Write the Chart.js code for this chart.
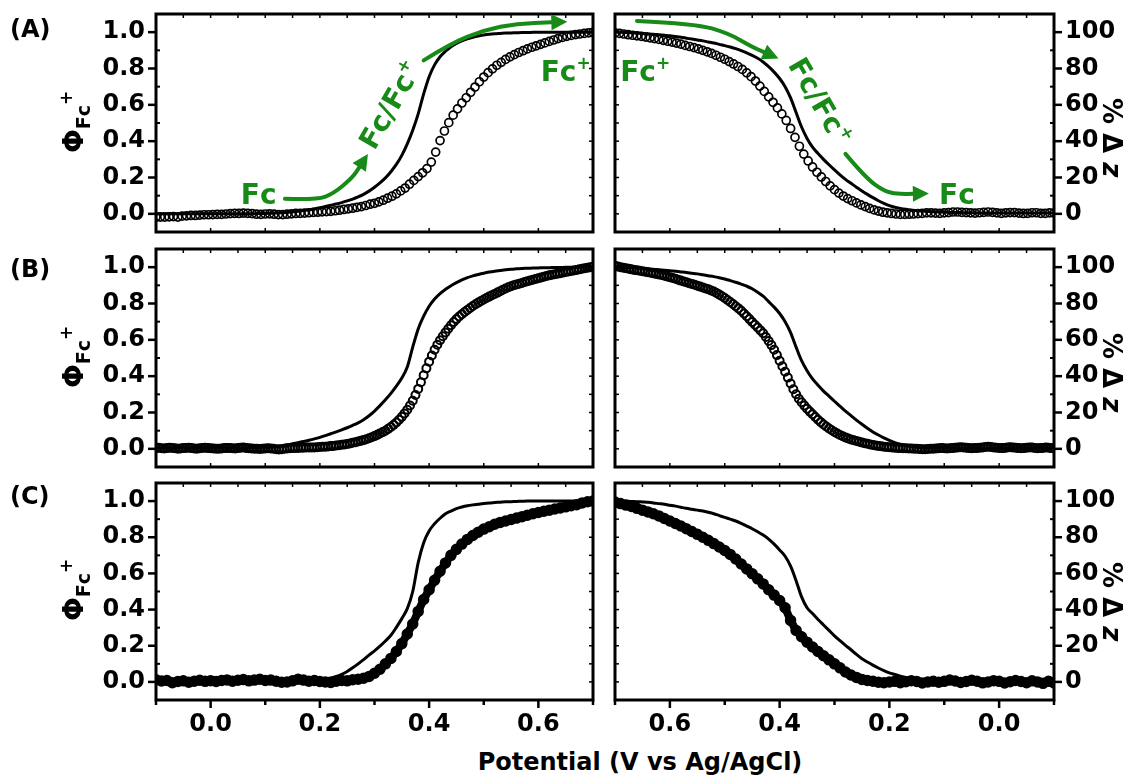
<!DOCTYPE html>
<html>
<head>
<meta charset="utf-8">
<script src="https://cdn.jsdelivr.net/npm/chart.js@4.4.1/dist/chart.umd.min.js"></script>
<style>
  body { margin: 0; background: #fff; }
  #wrap { position: relative; width: 1128px; height: 779px; overflow: hidden; font-family: "DejaVu Sans", sans-serif; font-weight: bold; color: #000; }
  canvas { position: absolute; }
  .lbl { position: absolute; font-size: 24px; line-height: 27px; }
  .ttl { position: absolute; white-space: nowrap; transform-origin: 0 0; }
</style>
</head>
<body>
<div id="wrap">
  <canvas id="cAL" width="600" height="240" style="left:0;top:0"></canvas>
  <canvas id="cAR" width="523" height="240" style="left:605px;top:0"></canvas>
  <canvas id="cBL" width="600" height="235" style="left:0;top:240px"></canvas>
  <canvas id="cBR" width="523" height="235" style="left:605px;top:240px"></canvas>
  <canvas id="cCL" width="600" height="270" style="left:0;top:475px"></canvas>
  <canvas id="cCR" width="523" height="270" style="left:605px;top:475px"></canvas>

  <div class="lbl" style="left:10px;top:16px">(A)</div>
  <div class="lbl" style="left:10px;top:256px">(B)</div>
  <div class="lbl" style="left:10px;top:483px">(C)</div>

  <div class="ttl phi" style="left:57px;top:153px"></div>
  <div class="ttl phi" style="left:57px;top:388px"></div>
  <div class="ttl phi" style="left:57px;top:621px"></div>
  <div class="ttl dz" style="left:1127px;top:98px"></div>
  <div class="ttl dz" style="left:1127px;top:333px"></div>
  <div class="ttl dz" style="left:1127px;top:562px"></div>

  <div class="ttl" style="left:640px;top:762px;font-size:24px;transform:translate(-50%,-50%)">Potential (V vs Ag/AgCl)</div>
</div>

<script>
// scan potentials (V vs Ag/AgCl)
// (A) circles are sampled every 8 mV
const potA = [
  -0.1,-0.092,-0.084,-0.076,-0.068,-0.06,-0.052,-0.044,-0.036,-0.028,-0.02,-0.012,-0.004,
  0.004,0.012,0.02,0.028,0.036,0.044,0.052,0.06,0.068,0.076,0.084,0.092,0.1,
  0.108,0.116,0.124,0.132,0.14,0.148,0.156,0.164,0.172,0.18,0.188,0.196,0.204,
  0.212,0.22,0.228,0.236,0.244,0.252,0.26,0.268,0.276,0.284,0.292,0.3,
  0.308,0.316,0.324,0.332,0.34,0.348,0.356,0.364,0.372,0.38,0.388,0.396,0.404,
  0.412,0.42,0.428,0.436,0.444,0.452,0.46,0.468,0.476,0.484,0.492,0.5,
  0.508,0.516,0.524,0.532,0.54,0.548,0.556,0.564,0.572,0.58,0.588,0.596,0.604,
  0.612,0.62,0.628,0.636,0.644,0.652,0.66,0.668,0.676,0.684,0.692,0.7
];
// (B) circles every 5 mV
const potFine = [
  -0.1,-0.095,-0.09,-0.085,-0.08,-0.075,-0.07,-0.065,-0.06,-0.055,-0.05,-0.045,-0.04,-0.035,-0.03,-0.025,-0.02,-0.015,-0.01,-0.005,0,
  0.005,0.01,0.015,0.02,0.025,0.03,0.035,0.04,0.045,0.05,0.055,0.06,0.065,0.07,0.075,0.08,0.085,0.09,0.095,0.1,
  0.105,0.11,0.115,0.12,0.125,0.13,0.135,0.14,0.145,0.15,0.155,0.16,0.165,0.17,0.175,0.18,0.185,0.19,0.195,0.2,
  0.205,0.21,0.215,0.22,0.225,0.23,0.235,0.24,0.245,0.25,0.255,0.26,0.265,0.27,0.275,0.28,0.285,0.29,0.295,0.3,
  0.305,0.31,0.315,0.32,0.325,0.33,0.335,0.34,0.345,0.35,0.355,0.36,0.365,0.37,0.375,0.38,0.385,0.39,0.395,0.4,
  0.405,0.41,0.415,0.42,0.425,0.43,0.435,0.44,0.445,0.45,0.455,0.46,0.465,0.47,0.475,0.48,0.485,0.49,0.495,0.5,
  0.505,0.51,0.515,0.52,0.525,0.53,0.535,0.54,0.545,0.55,0.555,0.56,0.565,0.57,0.575,0.58,0.585,0.59,0.595,0.6,
  0.605,0.61,0.615,0.62,0.625,0.63,0.635,0.64,0.645,0.65,0.655,0.66,0.665,0.67,0.675,0.68,0.685,0.69,0.695,0.7
];
// (C) circles and all Φ lines every 10 mV
const potCoarse = [
  -0.1,-0.09,-0.08,-0.07,-0.06,-0.05,-0.04,-0.03,-0.02,-0.01,0,
  0.01,0.02,0.03,0.04,0.05,0.06,0.07,0.08,0.09,0.1,
  0.11,0.12,0.13,0.14,0.15,0.16,0.17,0.18,0.19,0.2,
  0.21,0.22,0.23,0.24,0.25,0.26,0.27,0.28,0.29,0.3,
  0.31,0.32,0.33,0.34,0.35,0.36,0.37,0.38,0.39,0.4,
  0.41,0.42,0.43,0.44,0.45,0.46,0.47,0.48,0.49,0.5,
  0.51,0.52,0.53,0.54,0.55,0.56,0.57,0.58,0.59,0.6,
  0.61,0.62,0.63,0.64,0.65,0.66,0.67,0.68,0.69,0.7
];

// circles = %Δz / 100, lines = Φ_Fc+
const aFwdDots = [
  -0.018,-0.018,-0.018,-0.017,-0.015,-0.018,-0.013,-0.011,-0.009,-0.009,-0.007,-0.005,-0.005,
  -0.004,-0.003,-0.003,-0.001,0.001,0.003,0.002,0.004,0.003,0.001,-0.002,-0.003,-0.001,
  0.000,-0.002,-0.004,-0.004,-0.002,0.000,0.002,0.003,0.004,0.006,0.008,0.009,0.011,
  0.012,0.014,0.017,0.020,0.024,0.027,0.031,0.036,0.040,0.046,0.053,0.058,
  0.066,0.075,0.086,0.097,0.110,0.126,0.142,0.163,0.184,0.205,0.226,0.249,0.285,
  0.340,0.403,0.456,0.502,0.543,0.578,0.610,0.639,0.669,0.698,0.727,0.753,
  0.777,0.798,0.818,0.834,0.850,0.864,0.876,0.888,0.898,0.908,0.917,0.925,0.933,
  0.941,0.949,0.957,0.965,0.971,0.977,0.982,0.987,0.990,0.993,0.996,0.999
];
const aRevDots = [
  0.004,0.005,0.003,0.003,0.006,0.006,0.003,0.002,0.004,0.007,0.007,0.005,0.003,
  0.005,0.008,0.010,0.008,0.006,0.004,0.005,0.007,0.008,0.010,0.010,0.007,0.005,
  0.003,0.004,0.005,0.005,0.003,0.001,-0.001,-0.002,-0.003,-0.003,-0.001,0.002,0.005,
  0.009,0.015,0.022,0.030,0.040,0.049,0.060,0.072,0.084,0.098,0.114,0.133,
  0.154,0.178,0.203,0.229,0.258,0.291,0.329,0.372,0.421,0.470,0.514,0.550,0.583,
  0.614,0.644,0.674,0.703,0.731,0.755,0.776,0.795,0.811,0.825,0.838,0.851,
  0.862,0.873,0.883,0.892,0.900,0.908,0.915,0.921,0.927,0.934,0.940,0.945,0.950,
  0.955,0.960,0.965,0.969,0.973,0.977,0.980,0.983,0.986,0.990,0.993,0.996
];
const aFwdLine = [
  0,0,0,0,0,0,0,0,0,0,0,
  0.000,0.000,0.000,0.000,0.000,0.001,0.001,0.001,0.002,0.002,
  0.003,0.004,0.006,0.008,0.011,0.014,0.018,0.022,0.027,0.033,
  0.040,0.047,0.054,0.062,0.071,0.081,0.093,0.107,0.125,0.146,
  0.170,0.198,0.232,0.272,0.322,0.385,0.460,0.550,0.660,0.755,
  0.820,0.865,0.895,0.920,0.938,0.952,0.963,0.972,0.979,0.984,
  0.988,0.991,0.993,0.995,0.996,0.997,0.998,0.998,0.999,0.999,
  1,1,1,1,1,1,1,1,1,1
];
const aRevLine = [
  0.005,0.005,0.005,0.005,0.005,0.005,0.005,0.005,0.005,0.005,0.005,
  0.005,0.005,0.005,0.005,0.006,0.006,0.007,0.007,0.008,0.009,
  0.010,0.011,0.013,0.015,0.018,0.021,0.025,0.030,0.036,0.045,
  0.057,0.072,0.089,0.107,0.126,0.146,0.168,0.190,0.215,0.242,
  0.270,0.300,0.332,0.367,0.415,0.478,0.558,0.638,0.700,0.745,
  0.780,0.810,0.836,0.856,0.872,0.886,0.898,0.909,0.918,0.926,
  0.933,0.940,0.946,0.952,0.957,0.962,0.967,0.972,0.976,0.980,
  0.983,0.986,0.989,0.991,0.993,0.995,0.997,0.998,0.999,1.000
];

const bFwdDots = [
  0.004,0.006,0.003,0.002,0.004,0.006,0.005,0.003,0.001,0.002,0.004,0.005,0.006,0.004,0.002,0.001,0.003,0.005,0.006,0.004,0.003,
  0.002,0.001,0.000,0.002,0.004,0.005,0.004,0.003,0.002,0.004,0.006,0.007,0.005,0.003,0.002,0.001,0.000,-0.001,0.000,0.002,
  0.003,0.002,0.000,-0.002,-0.003,-0.002,0.000,0.002,0.003,0.004,0.005,0.005,0.006,0.006,0.007,0.007,0.008,0.008,0.009,0.010,
  0.011,0.012,0.013,0.015,0.016,0.018,0.020,0.022,0.024,0.027,0.030,0.033,0.036,0.040,0.044,0.048,0.053,0.058,0.064,0.070,
  0.077,0.085,0.092,0.100,0.110,0.120,0.132,0.145,0.160,0.176,0.195,0.215,0.239,0.265,0.296,0.330,0.367,0.405,0.443,0.480,
  0.514,0.545,0.573,0.598,0.620,0.641,0.661,0.680,0.698,0.714,0.728,0.741,0.753,0.764,0.775,0.786,0.796,0.805,0.814,0.822,
  0.830,0.838,0.845,0.852,0.860,0.868,0.876,0.883,0.889,0.895,0.900,0.905,0.909,0.913,0.918,0.922,0.927,0.931,0.935,0.939,
  0.943,0.947,0.951,0.955,0.958,0.961,0.964,0.967,0.970,0.973,0.976,0.979,0.982,0.985,0.988,0.991,0.994,0.997,0.999,1.002
];
const bRevDots = [
  0.003,0.004,0.006,0.007,0.005,0.004,0.003,0.005,0.007,0.008,0.006,0.004,0.003,0.004,0.006,0.008,0.009,0.007,0.005,0.004,0.005,
  0.006,0.008,0.010,0.011,0.010,0.008,0.006,0.005,0.004,0.003,0.004,0.006,0.008,0.009,0.008,0.006,0.004,0.003,0.002,0.003,
  0.004,0.003,0.002,0.001,0.000,-0.001,-0.002,-0.002,-0.001,0.000,0.001,0.002,0.002,0.003,0.003,0.004,0.005,0.006,0.007,0.009,
  0.010,0.012,0.014,0.016,0.018,0.021,0.024,0.028,0.031,0.035,0.039,0.043,0.047,0.052,0.057,0.063,0.069,0.076,0.084,0.093,
  0.102,0.112,0.123,0.134,0.147,0.160,0.175,0.190,0.205,0.221,0.238,0.256,0.276,0.300,0.328,0.360,0.392,0.424,0.455,0.485,
  0.516,0.545,0.571,0.594,0.616,0.636,0.652,0.668,0.683,0.698,0.714,0.730,0.745,0.760,0.773,0.785,0.797,0.808,0.819,0.830,
  0.840,0.849,0.858,0.866,0.872,0.878,0.883,0.888,0.893,0.898,0.903,0.908,0.912,0.917,0.921,0.926,0.931,0.936,0.940,0.945,
  0.949,0.953,0.957,0.960,0.963,0.966,0.969,0.972,0.975,0.978,0.980,0.983,0.985,0.988,0.991,0.994,0.997,1.000,1.004,1.008
];
const bFwdLine = [
  0.005,0.005,0.005,0.005,0.005,0.005,0.005,0.005,0.005,0.005,0.005,
  0.005,0.005,0.005,0.005,0.005,0.005,0.005,0.005,0.005,0.005,
  0.008,0.012,0.017,0.022,0.028,0.034,0.040,0.047,0.055,0.063,
  0.073,0.083,0.093,0.104,0.116,0.129,0.143,0.160,0.182,0.208,
  0.238,0.270,0.305,0.345,0.390,0.450,0.560,0.660,0.730,0.785,
  0.825,0.855,0.878,0.898,0.915,0.930,0.942,0.952,0.960,0.967,
  0.973,0.978,0.982,0.986,0.989,0.991,0.993,0.994,0.995,0.996,
  0.997,0.997,0.998,0.998,0.999,0.999,1.000,1.000,1.000,1.000
];
const bRevLine = [
  0.005,0.005,0.005,0.005,0.005,0.005,0.005,0.005,0.005,0.005,0.005,
  0.005,0.005,0.005,0.005,0.005,0.005,0.005,0.005,0.005,0.005,
  0.005,0.005,0.005,0.005,0.008,0.012,0.018,0.025,0.034,0.046,
  0.060,0.076,0.093,0.113,0.135,0.158,0.183,0.208,0.235,0.262,
  0.290,0.318,0.350,0.385,0.430,0.485,0.560,0.640,0.700,0.745,
  0.780,0.810,0.840,0.862,0.881,0.895,0.907,0.917,0.926,0.935,
  0.942,0.948,0.953,0.958,0.963,0.967,0.971,0.974,0.977,0.980,
  0.983,0.986,0.989,0.991,0.993,0.995,0.997,0.998,0.999,1.000
];

const cFwdDots = [
  0.012,0.005,0.008,-0.004,0.002,0.006,-0.002,0.004,0.009,0.003,0.007,
  0.002,0.008,0.011,0.004,0.009,0.013,0.006,0.010,0.015,0.008,
  0.010,0.004,-0.002,0.000,0.006,0.015,0.010,0.004,0.008,0.002,
  0.000,-0.003,0.004,0.008,0.006,0.012,0.015,0.020,0.030,0.048,
  0.070,0.100,0.130,0.168,0.212,0.265,0.320,0.390,0.456,0.510,
  0.562,0.612,0.658,0.700,0.733,0.762,0.788,0.810,0.828,0.845,
  0.858,0.872,0.882,0.890,0.898,0.906,0.914,0.922,0.930,0.937,
  0.944,0.950,0.956,0.962,0.968,0.974,0.980,0.990,0.996,1.000
];
const cRevDots = [
  -0.005,0.003,-0.008,0.000,0.006,-0.004,0.002,0.008,0.001,-0.006,0.003,
  0.007,0.000,-0.005,0.004,0.009,0.002,-0.003,0.005,0.010,0.003,
  -0.002,0.004,0.000,-0.006,0.002,0.007,0.001,-0.004,0.003,0.000,
  -0.004,-0.002,0.004,0.008,0.014,0.025,0.038,0.055,0.078,0.100,
  0.122,0.145,0.168,0.193,0.220,0.250,0.285,0.340,0.410,0.450,
  0.480,0.510,0.542,0.570,0.598,0.625,0.652,0.680,0.705,0.727,
  0.746,0.765,0.783,0.800,0.816,0.832,0.847,0.862,0.876,0.890,
  0.904,0.918,0.930,0.940,0.950,0.960,0.970,0.978,0.986,0.995
];
const cFwdLine = [
  0.010,0.010,0.010,0.010,0.010,0.010,0.010,0.010,0.010,0.010,0.010,
  0.010,0.010,0.010,0.010,0.010,0.010,0.010,0.010,0.010,0.010,
  0.010,0.010,0.010,0.010,0.010,0.010,0.010,0.010,0.011,0.012,
  0.016,0.022,0.030,0.042,0.058,0.078,0.100,0.123,0.148,0.172,
  0.198,0.226,0.258,0.302,0.350,0.405,0.500,0.660,0.770,0.835,
  0.875,0.905,0.930,0.945,0.958,0.967,0.974,0.979,0.983,0.987,
  0.990,0.992,0.994,0.996,0.997,0.998,0.999,1.000,1.000,1.000,
  1,1,1,1,1,1,1,1,1,1
];
const cRevLine = [
  0.010,0.010,0.010,0.010,0.010,0.010,0.010,0.010,0.010,0.010,0.010,
  0.010,0.010,0.010,0.010,0.010,0.010,0.010,0.010,0.010,0.010,
  0.010,0.011,0.012,0.013,0.015,0.019,0.025,0.032,0.041,0.050,
  0.062,0.077,0.093,0.110,0.128,0.152,0.178,0.202,0.228,0.255,
  0.285,0.315,0.345,0.378,0.410,0.470,0.560,0.640,0.695,0.730,
  0.762,0.790,0.812,0.830,0.847,0.862,0.877,0.890,0.900,0.910,
  0.920,0.930,0.938,0.945,0.950,0.955,0.960,0.966,0.972,0.977,
  0.982,0.986,0.990,0.993,0.995,0.997,0.998,0.999,1.000,1.000
];

// tick labels
const xTickLabels = ['0.0', '0.2', '0.4', '0.6'];
const phiTickLabels = ['0.0', '0.2', '0.4', '0.6', '0.8', '1.0'];
const dzTickLabels = ['0', '20', '40', '60', '80', '100'];

// green annotations of panel (A), in data units
const notesAL = {
  texts: [
    { x: 0.088, y: 0.11, text: 'Fc', sup: '', rot: 0 },
    { x: 0.328, y: 0.60, text: 'Fc/Fc', sup: '+', rot: -60 },
    { x: 0.650, y: 0.785, text: 'Fc', sup: '+', rot: 0 }
  ],
  arrows: [
    [[0.136, 0.083], [0.194, 0.077], [0.224, 0.11], [0.26, 0.2], [0.288, 0.33]],
    [[0.39, 0.845], [0.439, 0.938], [0.5, 1.011], [0.561, 1.048], [0.653, 1.057]]
  ]
};
const notesAR = {
  texts: [
    { x: 0.645, y: 0.785, text: 'Fc', sup: '+', rot: 0 },
    { x: 0.326, y: 0.62, text: 'Fc/Fc', sup: '+', rot: 60 },
    { x: 0.077, y: 0.11, text: 'Fc', sup: '', rot: 0 }
  ],
  arrows: [
    [[0.66, 1.062], [0.554, 1.048], [0.493, 0.993], [0.45, 0.919], [0.402, 0.855]],
    [[0.28, 0.33], [0.244, 0.2], [0.207, 0.118], [0.177, 0.109], [0.128, 0.112]]
  ]
};

const GREEN = '#178a17';
const FONT = '"DejaVu Sans"';
const tickFont = { family: FONT, size: 24, weight: 'bold' };

// axis titles
document.querySelectorAll('.phi').forEach(el => {
  el.innerHTML = '<span style="font-size:28px">Φ</span><span style="font-size:19px;position:relative;top:7px">Fc</span><span style="font-size:17px;position:relative;top:-11px">+</span>';
  el.style.transform = 'rotate(-90deg)';
});
document.querySelectorAll('.dz').forEach(el => {
  el.innerHTML = '<span style="font-size:26px">% Δ <i>z</i></span>';
  el.style.transform = 'rotate(90deg)';
});

// frame box + tick marks
const framePlugin = {
  id: 'frame',
  afterDatasetsDraw(chart, args, o) {
    const { ctx, chartArea: a, scales } = chart;
    const sx = scales.x, sy = scales.y;
    const seg = (x1, y1, x2, y2, w) => {
      ctx.lineWidth = w;
      ctx.beginPath(); ctx.moveTo(x1, y1); ctx.lineTo(x2, y2); ctx.stroke();
    };
    ctx.save();
    ctx.strokeStyle = '#000';
    for (let k = -1; k <= 7; k++) {
      const p = sx.getPixelForValue(k / 10);
      if (o.showX) seg(p, a.bottom, p, a.bottom + (k % 2 === 0 ? 8 : 5), 2.5);
      else seg(p, a.bottom, p, a.bottom - 4, 1.5);
    }
    for (let k = -1; k <= 13; k++) {
      const p = sx.getPixelForValue(k / 20);
      seg(p, a.top, p, a.top + 4, 1.5);
    }
    for (let k = 0; k <= 10; k++) {
      const p = sy.getPixelForValue(k / 10);
      const major = k % 2 === 0;
      if (o.left) {
        if (major) seg(a.left - 8, p, a.left, p, 2.5); else seg(a.left, p, a.left + 4, p, 2);
        seg(a.right, p, a.right - 4, p, 1.5);
      } else {
        if (major) seg(a.right, p, a.right + 8, p, 2.5); else seg(a.right, p, a.right - 4, p, 2);
        seg(a.left, p, a.left + 4, p, 1.5);
      }
    }
    ctx.lineWidth = 3;
    ctx.strokeRect(a.left, a.top, a.right - a.left, a.bottom - a.top);
    ctx.restore();
  }
};

// green arrows and labels
const notesPlugin = {
  id: 'notes',
  afterDatasetsDraw(chart, args, o) {
    if (!o || !o.texts) return;
    const { ctx, scales } = chart;
    const px = v => scales.x.getPixelForValue(v);
    const py = v => scales.y.getPixelForValue(v);
    ctx.save();
    ctx.strokeStyle = GREEN;
    ctx.fillStyle = GREEN;
    ctx.lineCap = 'round';
    o.arrows.forEach(arr => {
      const pts = arr.map(p => ({ x: px(p[0]), y: py(p[1]) }));
      const tip = pts[pts.length - 1], prev = pts[pts.length - 2];
      const ang = Math.atan2(tip.y - prev.y, tip.x - prev.x);
      const hl = 16, hw = 8;
      const base = { x: tip.x - hl * Math.cos(ang), y: tip.y - hl * Math.sin(ang) };
      const path = pts.slice(0, -1).concat([base]);
      ctx.lineWidth = 4;
      ctx.beginPath();
      ctx.moveTo(path[0].x, path[0].y);
      for (let i = 1; i < path.length - 1; i++) {
        const mx = (path[i].x + path[i + 1].x) / 2, my = (path[i].y + path[i + 1].y) / 2;
        ctx.quadraticCurveTo(path[i].x, path[i].y, mx, my);
      }
      ctx.lineTo(base.x, base.y);
      ctx.stroke();
      ctx.beginPath();
      ctx.moveTo(tip.x, tip.y);
      ctx.lineTo(base.x + hw * Math.sin(ang), base.y - hw * Math.cos(ang));
      ctx.lineTo(base.x - hw * Math.sin(ang), base.y + hw * Math.cos(ang));
      ctx.closePath();
      ctx.fill();
    });
    o.texts.forEach(t => {
      ctx.save();
      ctx.translate(px(t.x), py(t.y));
      ctx.rotate(t.rot * Math.PI / 180);
      ctx.textAlign = 'left';
      ctx.textBaseline = 'alphabetic';
      ctx.font = 'bold 28px ' + FONT;
      const w1 = ctx.measureText(t.text).width;
      ctx.font = 'bold 17px ' + FONT;
      const w2 = t.sup ? ctx.measureText(t.sup).width : 0;
      const x0 = -(w1 + w2) / 2;
      ctx.font = 'bold 28px ' + FONT;
      ctx.fillText(t.text, x0, 10);
      if (t.sup) {
        ctx.font = 'bold 17px ' + FONT;
        ctx.fillText(t.sup, x0 + w1, -2);
      }
      ctx.restore();
    });
    ctx.restore();
  }
};

function pick(list, s) { return list.includes(s) ? s : null; }

function makePanel(id, side, padTop, showX, dotX, dotY, lineY, dot, notes) {
  const left = side === 'L';
  const scales = {
    x: {
      type: 'linear', min: -0.1, max: 0.7, reverse: !left,
      grid: { display: false, drawTicks: true, tickLength: 8 },
      border: { display: false },
      ticks: {
        display: showX, stepSize: 0.1, autoSkip: false, maxRotation: 0, padding: 2,
        color: '#000', font: tickFont,
        callback: v => pick(xTickLabels, (Math.round(v * 10) / 10).toFixed(1))
      },
      afterFit: s => { s.height = showX ? 45 : 8; s.paddingLeft = 0; s.paddingRight = 0; }
    },
    y: {
      type: 'linear', position: 'left', min: -0.1, max: 1.1, display: left,
      grid: { display: false, drawTicks: true, tickLength: 8 },
      border: { display: false },
      ticks: {
        stepSize: 0.1, autoSkip: false, padding: 3, color: '#000', font: tickFont,
        callback: v => pick(phiTickLabels, (Math.round(v * 10) / 10).toFixed(1))
      },
      afterFit: s => { s.width = left ? 156 : 0; s.paddingTop = 0; s.paddingBottom = 0; }
    }
  };
  if (!left) {
    scales.y2 = {
      type: 'linear', position: 'right', min: -10, max: 110,
      grid: { display: false, drawTicks: true, tickLength: 8 },
      border: { display: false },
      ticks: {
        stepSize: 10, autoSkip: false, padding: 3, color: '#000', font: tickFont,
        callback: v => pick(dzTickLabels, String(Math.round(v)))
      },
      afterFit: s => { s.width = 74; s.paddingTop = 0; s.paddingBottom = 0; }
    };
  }
  return new Chart(document.getElementById(id), {
    type: 'scatter',
    data: {
      datasets: [
        {
          data: dotX.map((p, i) => ({ x: p, y: dotY[i] })),
          showLine: dot.line > 0, borderColor: '#000', borderWidth: dot.line,
          pointRadius: dot.r, pointHoverRadius: dot.r, pointBorderWidth: dot.w,
          pointBorderColor: '#000', pointBackgroundColor: 'rgba(0,0,0,0)'
        },
        {
          data: potCoarse.map((p, i) => ({ x: p, y: lineY[i] })),
          showLine: true, borderColor: '#000', borderWidth: 3, pointRadius: 0,
          cubicInterpolationMode: 'monotone'
        }
      ]
    },
    options: {
      responsive: false, animation: false, events: [],
      layout: {
        autoPadding: false,
        padding: left ? { left: 0, right: 7, top: padTop, bottom: 0 } : { left: 10, right: 0, top: padTop, bottom: 0 }
      },
      scales,
      plugins: {
        legend: { display: false }, tooltip: { enabled: false },
        frame: { showX, left },
        notes: notes || {}
      }
    },
    plugins: [framePlugin, notesPlugin]
  });
}

const openDots = { r: 4, w: 1.7, line: 0 };
const denseDots = { r: 4, w: 2, line: 0 };
const thickDots = { r: 4.5, w: 2.5, line: 8 };

makePanel('cAL', 'L', 14, false, potA, aFwdDots, aFwdLine, openDots, notesAL);
makePanel('cAR', 'R', 14, false, potA, aRevDots, aRevLine, openDots, notesAR);
makePanel('cBL', 'L', 9, false, potFine, bFwdDots, bFwdLine, denseDots);
makePanel('cBR', 'R', 9, false, potFine, bRevDots, bRevLine, denseDots);
makePanel('cCL', 'L', 8, true, potCoarse, cFwdDots, cFwdLine, thickDots);
makePanel('cCR', 'R', 8, true, potCoarse, cRevDots, cRevLine, thickDots);
</script>
</body>
</html>
